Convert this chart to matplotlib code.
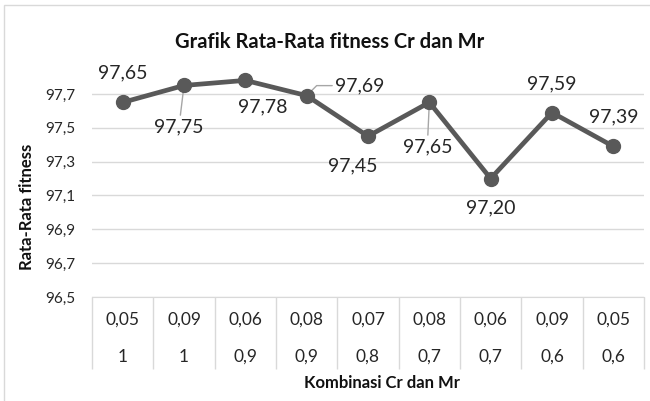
import numpy as np
import matplotlib
matplotlib.use("Agg")
import matplotlib.pyplot as plt
from matplotlib.patches import Rectangle

plt.rcParams['font.family'] = ['Lato', 'DejaVu Sans']

# data
mr_labels = ["0,05", "0,09", "0,06", "0,08", "0,07", "0,08", "0,06", "0,09", "0,05"]
cr_labels = ["1", "1", "0,9", "0,9", "0,8", "0,7", "0,7", "0,6", "0,6"]
fitness = [97.65, 97.75, 97.78, 97.69, 97.45, 97.65, 97.20, 97.59, 97.39]
ytick_vals = [96.5, 96.7, 96.9, 97.1, 97.3, 97.5, 97.7]

# label offsets in pixels (dx right, dy down) + leader line
label_offsets = [(0, -30), (-5, 41), (17, 26), (53, -10), (-15, 30),
                 (-2, 44), (0, 29), (0, -29), (0, -30)]
leader = [None, "arc", None, "angle", None, "arc", None, None, None]

W, H = 650, 401
fig = plt.figure(figsize=(W / 100, H / 100), dpi=100)

# outer border
fig.patches.append(Rectangle((4 / W, -0.01), 1.0, 1 - 5 / H + 0.01, transform=fig.transFigure,
                             fill=False, edgecolor='#d9d9d9', lw=1))

x0, x1, ytop, ybot = 92, 644, 77, 297
ax = fig.add_axes([x0 / W, 1 - ybot / H, (x1 - x0) / W, (ybot - ytop) / H])

n = len(fitness)
x = np.arange(n)
ax.plot(x, fitness, color='#595959', lw=3.4, marker='o', ms=10, zorder=4, clip_on=False)

ax.set_xlim(-0.5, n - 0.5)
ax.set_ylim(96.5, 97.8)
ax.set_yticks(ytick_vals)
ax.set_yticklabels([f"{v:.1f}".replace(".", ",") for v in ytick_vals])
ax.yaxis.grid(True, color='#d9d9d9', lw=1)
ax.set_axisbelow(True)
for s in ['top', 'right', 'left']:
    ax.spines[s].set_visible(False)
ax.spines['bottom'].set_color('#d9d9d9')
ax.tick_params(axis='y', length=0, pad=12, labelsize=11, labelcolor='#262626')

# category table: ticks at boundaries
ax.set_xticks(np.arange(-0.5, n, 1))
ax.set_xticklabels([])
ax.tick_params(axis='x', length=72 * 0.72, width=1, color='#d9d9d9', direction='out')

ah = ybot - ytop
for i in range(n):
    ax.text(i, -(320 - ybot) / ah, mr_labels[i], transform=ax.get_xaxis_transform(),
            ha='center', va='center', fontsize=12.5, color='#262626')
    ax.text(i, -(357 - ybot) / ah, cr_labels[i], transform=ax.get_xaxis_transform(),
            ha='center', va='center', fontsize=12.5, color='#262626')

# data labels
for i, v in enumerate(fitness):
    dx, dy = label_offsets[i]
    txt = f"{v:.2f}".replace(".", ",")
    props = None
    if leader[i] == "arc":
        props = dict(arrowstyle='-', color='#a6a6a6', lw=1, shrinkA=0, shrinkB=0)
    elif leader[i] == "angle":
        props = dict(arrowstyle='-', color='#a6a6a6', lw=1, shrinkA=0, shrinkB=0,
                     connectionstyle="angle,angleA=0,angleB=45,rad=0")
    ax.annotate(txt, (i, v), xytext=(dx, -dy), textcoords='offset pixels',
                ha='center', va='center', fontsize=14, color='#262626',
                arrowprops=props, zorder=3, annotation_clip=False)

fig.text(330 / W, 1 - 42 / H, "Grafik Rata-Rata fitness Cr dan Mr", ha='center', va='center',
         fontsize=14.5, fontweight='bold', color='#111111')
fig.text(382 / W, 1 - 383 / H, "Kombinasi Cr dan Mr", ha='center', va='center',
         fontsize=12, fontweight='bold', color='#111111')
fig.text(27 / W, 1 - 207 / H, "Rata-Rata fitness", ha='center', va='center', rotation=90,
         fontsize=12, fontweight='bold', color='#111111')

fig.savefig("out.png", dpi=100)
